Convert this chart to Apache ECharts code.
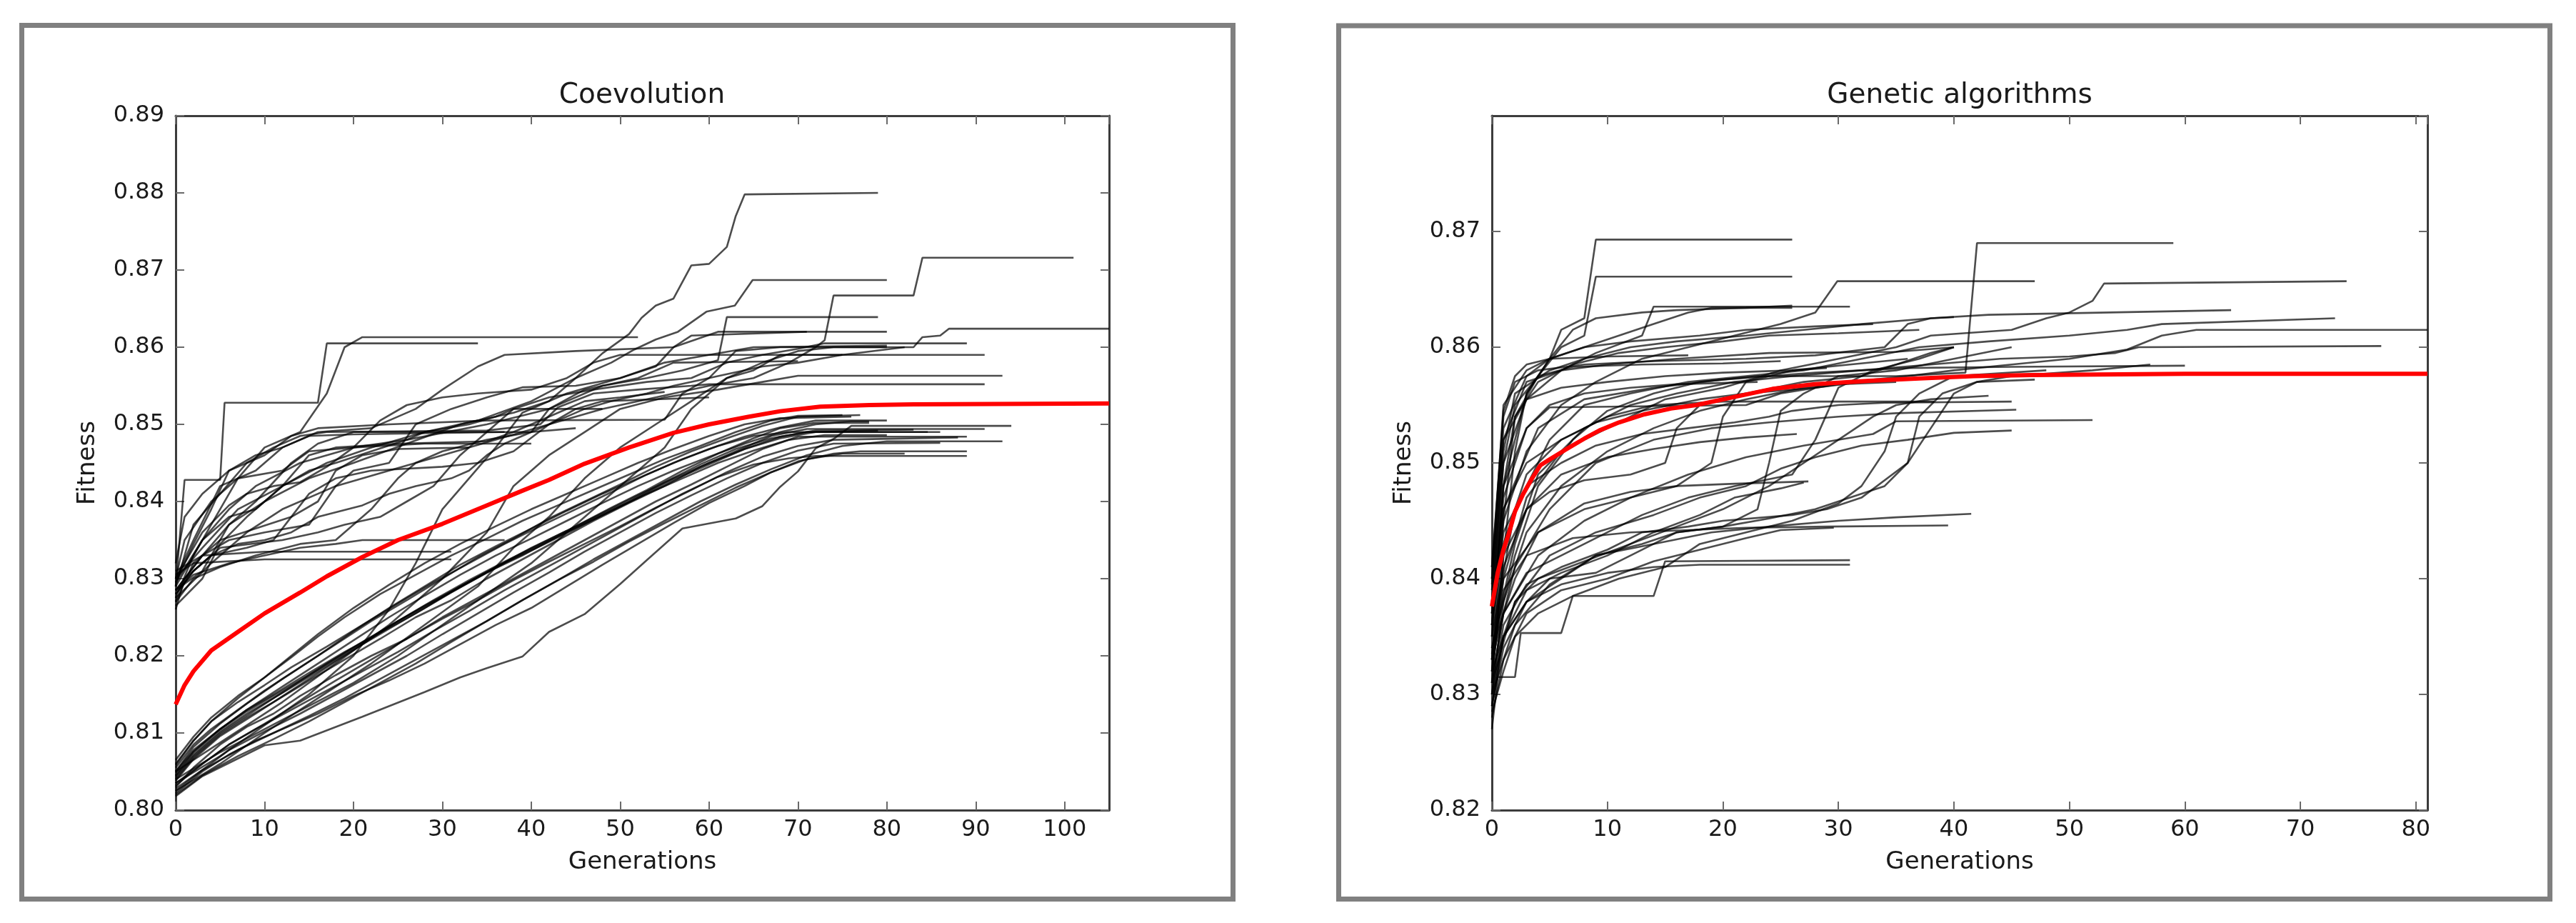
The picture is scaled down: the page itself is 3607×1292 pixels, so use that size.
<!DOCTYPE html>
<html><head><meta charset="utf-8">
<script src="https://cdn.jsdelivr.net/npm/echarts@6/dist/echarts.min.js"></script>
<style>html,body{margin:0;padding:0;background:#fff}#c{width:3607px;height:1292px}</style>
</head><body><div id="c"></div>
<script>
const coevoTitle = 'Coevolution';
const gaTitle = 'Genetic algorithms';
const xName = 'Generations';
const yName = 'Fitness';
const coevoYTicks = [0.80, 0.89, 0.01];
const coevoXTicks = [0, 105, 10];
const gaYTicks = [0.82, 0.88, 0.01];
const gaXTicks = [0, 81, 10];

// mean curves: flat [x, y, x, y, ...]
const coevoMean = [0,.8137, 1,.8162, 2,.8180, 4,.8207, 7,.8231, 10,.8255, 14,.8282, 17,.8303, 21,.8328, 25,.8350, 30,.8371, 35,.8395, 39,.8414, 42,.8428, 46,.8449, 51,.8470, 56,.8489, 60,.8500, 64.5,.8510, 68,.8517, 72.5,.8523, 78,.8525, 83,.8526, 105,.8527];
const gaMean = [0,.8376, 0.5,.8405, 1,.8425, 1.5,.8440, 2,.8458, 2.7,.8473, 3.5,.8487, 4.2,.8498, 5,.8503, 6.3,.8511, 8,.8521, 9.3,.8528, 11,.8535, 13.2,.8542, 15.5,.8547, 17.7,.8550, 21,.8557, 24.3,.8564, 28,.8568, 32.7,.8571, 37,.8573, 41.7,.8575, 46.7,.8576, 60,.8577, 81,.8577];

// coevolution runs that jump early (start ~0.83)
const coevoEarlyRuns = [
 [0,.8285, 3,.8330, 6,.8370, 10,.8400, 15,.8430, 20,.8450, 26,.8475, 32,.8500, 38,.8515, 42,.8530, 45,.8560, 48,.8592, 51,.8617, 52.4,.8638, 54,.8654, 56,.8663, 58,.8706, 60,.8708, 62,.8730, 63,.8770, 64,.8798, 79,.8800],
 [0,.8275, 4,.8320, 8,.8360, 12,.8390, 18,.8420, 24,.8440, 30,.8460, 36,.8480, 42,.8500, 48,.8520, 54,.8535, 60,.8550, 65,.8560, 69,.8580, 72,.8600, 73,.8609, 74,.8667, 83,.8667, 84,.8716, 101,.8716],
 [0,.8300, 3,.8340, 7,.8390, 12,.8420, 17,.8450, 22,.8470, 28,.8490, 34,.8505, 40,.8530, 45,.8560, 49,.8580, 51.6,.8597, 54,.8610, 56.5,.8620, 59.7,.8646, 62.9,.8654, 64.9,.8687, 80,.8687],
 [0,.8290, 3,.8350, 6,.8390, 9,.8420, 14,.8450, 20,.8470, 26,.8480, 35,.8500, 42,.8520, 48,.8550, 53,.8560, 57,.8570, 61,.8583, 62,.8639, 79,.8639],
 [0,.8290, 1,.8428, 5,.8428, 5.5,.8528, 16,.8528, 17,.8605, 34,.8605],
 [0,.8275, 2,.8330, 4,.8370, 7,.8430, 10,.8470, 14,.8490, 17,.8540, 19,.8600, 21,.8613, 52,.8613],
 [0,.8300, 2,.8350, 5,.8420, 9,.8440, 12,.8470, 16,.8490, 22,.8495, 27,.8520, 30,.8545, 34,.8575, 37,.8590, 45,.8595, 56,.8600, 61,.8620, 80,.8620],
 [0,.8285, 3,.8310, 6,.8370, 9,.8400, 13,.8450, 16,.8475, 20,.8490, 40,.8490, 42,.8520, 46,.8545, 52,.8560, 56,.8580, 70,.8582],
 [0,.8265, 3,.8300, 5,.8345, 8,.8380, 12,.8420, 15,.8460, 18,.8470, 25,.8475, 35,.8478, 38,.8490, 42,.8510, 46,.8530, 50,.8535, 55,.8542],
 [0,.8295, 2,.8345, 4,.8390, 6,.8440, 10,.8460, 13,.8485, 16,.8495, 24,.8500, 35,.8505, 55,.8506, 57,.8540, 60,.8560, 63,.8595, 68,.8600, 80,.8600],
 [0,.8310, 3,.8330, 10,.8335, 31,.8335],
 [0,.8305, 2,.8320, 10,.8325, 31,.8325],
 [0,.8270, 2,.8300, 5,.8315, 9,.8330, 14,.8345, 18,.8350, 22,.8390, 25,.8430, 27,.8450, 30,.8465, 35,.8480, 40,.8490, 45,.8495],
 [0,.8285, 3,.8330, 6,.8350, 10,.8360, 15,.8370, 18,.8420, 20,.8440, 24,.8450, 27,.8500, 31,.8520, 35,.8535, 39,.8548, 45,.8550, 50,.8560, 54,.8575, 56,.8600, 58,.8615, 71,.8620],
 [0,.8300, 1,.8350, 4,.8400, 7,.8430, 12,.8440, 15,.8465, 20,.8470, 28,.8475, 40,.8475],
 [0,.8290, 2,.8370, 5,.8410, 8,.8450, 11,.8470, 14,.8485, 17,.8490, 35,.8492, 41,.8500, 43,.8522, 47,.8540, 52,.8545, 58,.8550, 60,.8552, 91,.8552],
 [0,.8260, 1,.8300, 4,.8330, 8,.8340, 11,.8350, 13,.8380, 16,.8400, 18,.8440, 21,.8460, 25,.8468, 33,.8470],
 [0,.8280, 2,.8310, 5,.8340, 12,.8350, 16,.8360, 19,.8370, 23,.8380, 26,.8400, 29,.8420, 32,.8460, 35,.8490, 38,.8520, 42,.8535, 47,.8545, 53,.8555, 58,.8560, 62,.8580, 66,.8590, 70,.8598, 73,.8605, 89,.8605],
 [0,.8320, 1,.8380, 3,.8410, 6,.8440, 9,.8460, 12,.8470, 15,.8485, 20,.8487, 37,.8490],
 [0,.8270, 2,.8320, 5,.8350, 9,.8365, 13,.8380, 15,.8410, 18,.8430, 22,.8440, 30,.8445, 34,.8450, 38,.8465, 42,.8500, 45,.8520, 48,.8530, 60,.8535],
 [0,.8300, 3,.8360, 6,.8395, 8,.8410, 11,.8420, 14,.8425, 17,.8445, 20,.8470, 23,.8505, 26,.8525, 30,.8535, 34,.8540, 40,.8545, 44,.8560, 47,.8580, 50,.8590, 75,.8590],
 [0,.8285, 2,.8305, 6,.8320, 10,.8330, 14,.8340, 18,.8345, 21,.8350, 37,.8350],
 [0,.8295, 3,.8350, 6,.8380, 9,.8390, 12,.8420, 15,.8440, 18,.8450, 22,.8465, 26,.8480, 28,.8490, 33,.8500, 36,.8510, 38,.8520, 48,.8520],
 [0,.8280, 2,.8310, 4,.8330, 7,.8345, 10,.8350, 13,.8360, 16,.8380, 21,.8395, 24,.8410, 27,.8420, 31,.8430, 33,.8440, 35,.8460, 37,.8475, 40,.8490, 43,.8505, 46,.8520, 49,.8530, 53,.8540, 56,.8550, 62,.8565, 66,.8575, 70,.8580, 75,.8590, 82,.8600]
];

// coevolution runs that climb slowly (start ~0.80)
const coevoLateRuns = [
 [0,.8040, 5,.8075, 10,.8105, 15,.8135, 20,.8165, 25,.8200, 30,.8240, 35,.8280, 40,.8320, 45,.8370, 50,.8420, 55,.8470, 58,.8520, 62,.8560, 66,.8580, 70,.8595, 74,.8600, 83,.8600, 84,.8613, 86,.8615, 87,.8624, 105,.8624],
 [0,.8035, 5,.8070, 10,.8110, 15,.8150, 20,.8200, 24,.8260, 27,.8320, 30,.8390, 33,.8430, 36,.8470, 39,.8515, 44,.8540, 50,.8560, 55,.8580, 60,.8590, 65,.8600, 80,.8602],
 [0,.8050, 6,.8095, 12,.8140, 18,.8190, 24,.8240, 30,.8300, 35,.8360, 38,.8420, 42,.8460, 46,.8490, 50,.8520, 55,.8535, 61,.8545, 66,.8555, 70,.8563, 93,.8563],
 [0,.8025, 5,.8060, 10,.8100, 16,.8145, 22,.8190, 28,.8240, 34,.8290, 38,.8340, 42,.8380, 46,.8430, 50,.8470, 54,.8500, 58,.8530, 62,.8560, 65,.8570, 68,.8590, 91,.8590],
 [0,.8018, 3,.8044, 10,.8084, 14,.8090, 21,.8121, 28,.8153, 32,.8172, 35,.8184, 39,.8199, 42,.8231, 46,.8254, 50,.8293, 53,.8324, 57,.8365, 63,.8378, 66,.8394, 68,.8419, 70,.8439, 72,.8469, 74,.8481, 76,.8498, 94,.8498],
 [0,.8022, 3,.8050, 6,.8072, 9,.8090, 12,.8105, 16,.8125, 20,.8148, 24,.8168, 28,.8190, 32,.8215, 36,.8240, 40,.8262, 44,.8290, 48,.8318, 52,.8345, 56,.8372, 60,.8398, 64,.8420, 67,.8438, 70,.8452, 74,.8462, 77,.8465, 89,.8465],
 [0,.8030, 2,.8055, 5,.8085, 8,.8108, 11,.8125, 14,.8148, 18,.8175, 22,.8200, 26,.8222, 30,.8250, 34,.8275, 38,.8300, 42,.8325, 46,.8350, 50,.8375, 54,.8400, 58,.8422, 62,.8445, 66,.8468, 70,.8484, 89,.8484],
 [0,.8040, 2,.8068, 5,.8098, 8,.8120, 11,.8140, 15,.8168, 19,.8195, 23,.8222, 27,.8250, 31,.8272, 35,.8300, 39,.8325, 43,.8350, 47,.8375, 51,.8398, 55,.8420, 59,.8445, 63,.8465, 67,.8485, 71,.8494, 91,.8494],
 [0,.8045, 2,.8075, 5,.8105, 8,.8130, 12,.8160, 16,.8190, 20,.8220, 24,.8250, 28,.8278, 32,.8305, 36,.8330, 40,.8352, 44,.8375, 48,.8398, 52,.8420, 56,.8440, 60,.8458, 64,.8475, 68,.8490, 72,.8500, 76,.8504, 78,.8504],
 [0,.8055, 2,.8085, 4,.8105, 7,.8130, 10,.8155, 14,.8185, 18,.8215, 22,.8245, 26,.8272, 30,.8300, 34,.8328, 38,.8352, 42,.8378, 46,.8400, 50,.8422, 54,.8445, 58,.8465, 62,.8482, 66,.8498, 70,.8510, 77,.8512],
 [0,.8035, 3,.8060, 6,.8085, 9,.8105, 13,.8130, 17,.8155, 21,.8180, 25,.8205, 29,.8232, 33,.8258, 37,.8285, 41,.8310, 45,.8335, 49,.8360, 53,.8385, 57,.8410, 61,.8432, 65,.8448, 69,.8456, 72,.8459, 89,.8459],
 [0,.8050, 2,.8078, 5,.8105, 8,.8130, 11,.8150, 15,.8178, 19,.8205, 23,.8230, 27,.8255, 31,.8282, 35,.8308, 39,.8330, 43,.8355, 47,.8378, 51,.8400, 55,.8425, 59,.8448, 63,.8468, 67,.8482, 71,.8490, 84.6,.8490],
 [0,.8060, 2,.8090, 4,.8115, 7,.8140, 10,.8162, 13,.8185, 17,.8212, 21,.8240, 25,.8268, 29,.8295, 33,.8320, 37,.8345, 41,.8368, 45,.8390, 49,.8412, 53,.8435, 57,.8455, 61,.8472, 65,.8485, 69,.8490, 86,.8490],
 [0,.8028, 3,.8052, 7,.8078, 11,.8100, 15,.8122, 19,.8145, 23,.8170, 27,.8195, 31,.8220, 35,.8245, 39,.8272, 43,.8298, 47,.8322, 51,.8348, 55,.8372, 59,.8395, 63,.8418, 67,.8438, 71,.8455, 75,.8462, 82,.8462],
 [0,.8042, 2,.8070, 5,.8100, 9,.8130, 13,.8160, 17,.8190, 21,.8218, 25,.8245, 29,.8270, 33,.8295, 37,.8320, 41,.8342, 45,.8365, 49,.8388, 53,.8410, 57,.8430, 61,.8450, 65,.8466, 69,.8480, 73,.8486, 80,.8486],
 [0,.8050, 2,.8082, 5,.8112, 8,.8138, 12,.8170, 16,.8200, 20,.8232, 24,.8262, 28,.8290, 32,.8318, 36,.8342, 40,.8365, 44,.8388, 48,.8410, 52,.8430, 56,.8450, 60,.8468, 64,.8484, 68,.8496, 72,.8505, 80,.8505],
 [0,.8020, 3,.8045, 7,.8070, 11,.8092, 15,.8115, 19,.8140, 23,.8165, 27,.8190, 31,.8218, 35,.8245, 39,.8272, 43,.8298, 47,.8325, 51,.8350, 55,.8375, 59,.8400, 63,.8422, 67,.8442, 71,.8460, 75,.8472, 80,.8478, 93,.8478],
 [0,.8065, 2,.8095, 4,.8120, 7,.8148, 10,.8172, 13,.8198, 16,.8225, 19,.8250, 23,.8280, 27,.8305, 31,.8330, 35,.8352, 39,.8375, 43,.8395, 47,.8415, 51,.8435, 55,.8455, 59,.8472, 63,.8490, 67,.8505, 70,.8511, 75,.8512],
 [0,.8032, 3,.8060, 6,.8085, 10,.8112, 14,.8140, 18,.8168, 22,.8195, 26,.8222, 30,.8248, 34,.8272, 38,.8298, 42,.8322, 46,.8345, 50,.8368, 54,.8392, 58,.8415, 62,.8438, 66,.8458, 70,.8472, 74,.8480, 88,.8483],
 [0,.8048, 2,.8076, 5,.8105, 8,.8128, 12,.8155, 16,.8182, 20,.8210, 24,.8238, 28,.8265, 32,.8290, 36,.8315, 40,.8338, 44,.8360, 48,.8382, 52,.8405, 56,.8428, 60,.8448, 64,.8468, 68,.8484, 72,.8492, 83,.8493],
 [0,.8038, 2,.8066, 5,.8096, 9,.8125, 13,.8155, 17,.8185, 21,.8215, 25,.8245, 29,.8272, 33,.8298, 37,.8322, 41,.8345, 45,.8368, 49,.8392, 53,.8415, 57,.8440, 61,.8462, 65,.8482, 68,.8495, 72,.8502, 78,.8502],
 [0,.8058, 2,.8090, 4,.8115, 7,.8145, 10,.8172, 13,.8200, 16,.8228, 20,.8262, 24,.8292, 28,.8320, 32,.8345, 36,.8368, 40,.8390, 44,.8410, 48,.8430, 52,.8450, 56,.8468, 60,.8485, 64,.8500, 68,.8508, 76,.8510],
 [0,.8025, 3,.8052, 6,.8078, 10,.8102, 14,.8125, 18,.8150, 22,.8175, 26,.8200, 30,.8228, 34,.8255, 38,.8282, 42,.8308, 46,.8335, 50,.8360, 54,.8385, 58,.8408, 62,.8430, 66,.8450, 70,.8466, 74,.8475, 86,.8476],
 [0,.8044, 2,.8072, 5,.8102, 8,.8125, 12,.8152, 16,.8180, 20,.8208, 24,.8235, 28,.8262, 32,.8290, 36,.8315, 40,.8340, 44,.8362, 48,.8385, 52,.8408, 56,.8430, 60,.8450, 64,.8468, 68,.8482, 72,.8490, 79,.8492]
];

// genetic-algorithm runs
const gaRuns = [
 [0,.8310, 1,.8420, 2,.8510, 3,.8560, 5,.8590, 6,.8615, 8,.8625, 9,.8693, 26,.8693],
 [0,.8330, 1,.8450, 2,.8540, 4,.8575, 6,.8600, 8,.8610, 9,.8661, 26,.8661],
 [0,.8360, 1,.8480, 3,.8560, 5,.8590, 8,.8600, 11,.8610, 14,.8620, 17,.8630, 19,.8634, 26,.8634],
 [0,.8370, 1,.8500, 3,.8555, 6,.8580, 9,.8595, 13,.8610, 14,.8635, 31,.8635],
 [0,.8340, 2,.8420, 4,.8480, 7,.8520, 10,.8545, 14,.8560, 18,.8570, 23,.8575, 35,.8575, 41,.8578, 42,.8690, 59,.8690],
 [0,.8320, 1,.8400, 3,.8470, 6,.8510, 10,.8530, 15,.8555, 20,.8565, 25,.8580, 30,.8590, 35,.8600, 38,.8610, 45,.8615, 48,.8625, 50,.8630, 52,.8640, 53,.8655, 74,.8657],
 [0,.8380, 1,.8510, 2,.8560, 5,.8580, 8,.8590, 12,.8600, 16,.8605, 22,.8610, 27,.8615, 32,.8620, 38,.8625, 43,.8628, 64,.8632],
 [0,.8350, 2,.8460, 5,.8520, 8,.8550, 12,.8560, 17,.8570, 22,.8575, 27,.8580, 32,.8590, 37,.8600, 43,.8605, 50,.8610, 55,.8615, 58,.8620, 73,.8625],
 [0,.8300, 1,.8380, 3,.8440, 6,.8480, 10,.8510, 14,.8530, 18,.8545, 22,.8555, 27,.8565, 31,.8570, 36,.8575, 40,.8580, 45,.8585, 50,.8590, 55,.8598, 58,.8610, 61,.8615, 81,.8615],
 [0,.8340, 2,.8430, 4,.8490, 8,.8530, 12,.8550, 16,.8560, 21,.8570, 26,.8575, 32,.8580, 38,.8585, 44,.8590, 50,.8592, 54,.8595, 56,.8600, 77,.8601],
 [0,.8360, 1,.8460, 4,.8530, 8,.8555, 14,.8565, 20,.8572, 28,.8578, 36,.8582, 45,.8583, 60,.8584],
 [0,.8390, 1,.8520, 3,.8570, 6,.8580, 10,.8585, 16,.8590, 24,.8595, 35,.8596, 40,.8600],
 [0,.8330, 2,.8410, 5,.8460, 9,.8500, 14,.8520, 19,.8530, 24,.8535, 30,.8540, 35,.8543, 45.4,.8546],
 [0,.8310, 1,.8370, 4,.8420, 8,.8450, 12,.8470, 17,.8490, 22,.8505, 27,.8515, 33,.8525, 35,.8536, 52,.8537],
 [0,.8270, 0.5,.8315, 2,.8315, 2.5,.8353, 6,.8353, 7,.8385, 14,.8385, 15,.8415, 31,.8416],
 [0,.8290, 1,.8350, 3,.8380, 6,.8395, 10,.8405, 14,.8410, 18,.8412, 31,.8412],
 [0,.8320, 1,.8390, 3,.8420, 7,.8435, 12,.8440, 17,.8442, 22,.8444, 29,.8445, 39.5,.8446],
 [0,.8300, 2,.8360, 5,.8395, 9,.8420, 14,.8430, 19,.8440, 24,.8445, 30,.8450, 35,.8453, 41.5,.8456],
 [0,.8340, 2,.8400, 4,.8440, 8,.8465, 12,.8475, 16,.8480, 21,.8482, 27.4,.8484],
 [0,.8370, 1,.8460, 3,.8500, 6,.8520, 10,.8540, 14,.8550, 20,.8553, 38.3,.8553],
 [0,.8400, 1,.8530, 3,.8575, 5,.8590, 8,.8600, 12,.8605, 18,.8610, 22,.8615, 28,.8618, 33,.8620],
 [0,.8350, 1,.8480, 2,.8540, 4,.8570, 7,.8585, 11,.8595, 15,.8600, 20,.8605, 24,.8610, 30,.8612, 37,.8615],
 [0,.8380, 1,.8500, 2,.8550, 4,.8575, 7,.8583, 13,.8585, 20,.8586, 25,.8588],
 [0,.8410, 1,.8540, 2,.8570, 4,.8580, 8,.8585, 14,.8588, 22,.8590, 28,.8593, 34,.8600, 36,.8620, 38,.8625, 40,.8626],
 [0,.8360, 1,.8470, 3,.8530, 5,.8550, 8,.8560, 12,.8565, 16,.8568, 23,.8570],
 [0,.8330, 1,.8430, 3,.8490, 6,.8520, 9,.8535, 13,.8545, 18,.8555, 22,.8560, 27,.8570, 32,.8575, 35,.8585, 38,.8595, 40,.8600],
 [0,.8395, 1,.8520, 3,.8555, 6,.8565, 10,.8570, 15,.8575, 20,.8578, 26,.8580, 29,.8582],
 [0,.8410, 1,.8545, 2,.8575, 3,.8585, 5,.8590, 10,.8592, 17,.8593],
 [0,.8400, 1,.8550, 3,.8580, 5,.8590, 7,.8615, 9,.8625, 13,.8630, 16,.8632, 22,.8634, 26,.8636],
 [0,.8310, 2,.8380, 5,.8420, 9,.8440, 14,.8455, 18,.8470, 22,.8480, 25,.8495, 28,.8505, 32,.8515, 36,.8520, 40,.8526, 45,.8528],
 [0,.8290, 1,.8350, 3,.8390, 6,.8405, 10,.8420, 14,.8440, 18,.8455, 21,.8470, 25,.8478, 27,.8483],
 [0,.8320, 2,.8380, 4,.8400, 8,.8415, 12,.8430, 16,.8445, 20,.8460, 24,.8480, 27,.8500, 30,.8520, 33,.8540, 35,.8550, 38,.8555, 43,.8558],
 [0,.8300, 1,.8360, 3,.8395, 6,.8410, 10,.8425, 13,.8440, 17,.8445, 20,.8450, 26,.8455, 29,.8460, 32,.8470, 36,.8500, 38,.8530, 40,.8560, 42,.8570, 47,.8572],
 [0,.8360, 1,.8440, 3,.8480, 6,.8500, 9,.8515, 13,.8525, 17,.8530, 21,.8535, 24,.8540, 26,.8545, 30,.8550, 34,.8552, 45,.8553],
 [0,.8370, 1,.8480, 3,.8530, 5,.8548, 22,.8550, 25,.8560, 30,.8568, 35,.8570],
 [0,.8350, 1,.8450, 3,.8510, 6,.8550, 9,.8570, 13,.8590, 17,.8600, 21,.8610, 25,.8620, 28,.8630, 29.9,.8657, 47,.8657],
 [0,.8280, 1,.8330, 3,.8370, 6,.8390, 10,.8400, 14,.8415, 18,.8425, 22,.8435, 25,.8442, 29.6,.8444],
 [0,.8330, 1,.8410, 3,.8460, 6,.8490, 10,.8505, 14,.8512, 18,.8518, 22,.8522, 26.4,.8525],
 [0,.8290, 1,.8340, 3,.8380, 5,.8400, 9,.8405, 12,.8420, 16,.8440, 20,.8445, 23,.8460, 24,.8500, 25,.8545, 27,.8560, 30,.8575, 35,.8580, 40,.8590, 45,.8600],
 [0,.8310, 1,.8370, 3,.8405, 6,.8420, 10,.8440, 13,.8455, 17,.8470, 21,.8480, 26,.8490, 28,.8520, 30,.8565, 33,.8580, 37,.8590, 40,.8600],
 [0,.8335, 1,.8400, 4,.8440, 8,.8460, 12,.8470, 16,.8480, 19,.8500, 20,.8540, 22,.8570, 26,.8580, 31,.8585, 36,.8590],
 [0,.8300, 1,.8350, 3,.8380, 6,.8400, 9,.8420, 13,.8430, 16,.8440, 20,.8445, 24,.8452, 28,.8460, 31,.8470, 34,.8480, 36,.8500, 37,.8540, 39,.8560, 42,.8570, 45,.8575, 52,.8580, 57,.8585],
 [0,.8285, 1,.8320, 2,.8350, 4,.8370, 7,.8385, 11,.8400, 15,.8410, 18,.8430, 22,.8440, 26,.8450, 30,.8465, 32,.8480, 34,.8510, 35,.8540, 37,.8560, 40,.8575, 48,.8580],
 [0,.8320, 1,.8420, 3,.8460, 5,.8475, 8,.8485, 12,.8490, 15,.8500, 16,.8530, 18,.8550, 22,.8560, 28,.8565, 32,.8570]
];

function pairs(a) { const p = []; for (let i = 0; i < a.length; i += 2) p.push([a[i], a[i + 1]]); return p; }

const FONT = "'DejaVu Sans', sans-serif";
const TXT = '#1a1a1a';

function axisPair(kind, gridIndex, range, isLabelled, showMax) {
  const pos = kind === 'x' ? (isLabelled ? 'bottom' : 'top') : (isLabelled ? 'left' : 'right');
  const ax = {
    type: 'value', gridIndex: gridIndex, position: pos,
    min: range[0], max: range[1], interval: range[2],
    axisLine: { show: true, onZero: false, lineStyle: { color: '#3c3c3c', width: 3 } },
    axisTick: { show: true, inside: true, length: 12, lineStyle: { color: '#6a6a6a', width: 2 } },
    splitLine: { show: false },
    axisLabel: {
      show: isLabelled, color: TXT, fontFamily: FONT, fontSize: 32,
      margin: kind === 'x' ? 12 : 16,
      showMaxLabel: showMax, showMinLabel: true,
      formatter: kind === 'y' ? (v => v.toFixed(2)) : (v => String(Math.round(v)))
    }
  };
  if (isLabelled) {
    ax.name = kind === 'x' ? xName : yName;
    ax.nameLocation = 'middle';
    ax.nameGap = kind === 'x' ? 56 : 106;
    ax.nameTextStyle = { color: TXT, fontFamily: FONT, fontSize: 34 };
  }
  return ax;
}

const xAxes = [
  axisPair('x', 0, coevoXTicks, true, false), axisPair('x', 0, coevoXTicks, false, false),
  axisPair('x', 1, gaXTicks, true, false), axisPair('x', 1, gaXTicks, false, false)
];
const yAxes = [
  axisPair('y', 0, coevoYTicks, true, true), axisPair('y', 0, coevoYTicks, false, true),
  axisPair('y', 1, gaYTicks, true, false), axisPair('y', 1, gaYTicks, false, false)
];

function runSeries(runs, axisIdx) {
  return runs.map(r => ({
    type: 'line', data: pairs(r), xAxisIndex: axisIdx, yAxisIndex: axisIdx,
    showSymbol: false, symbol: 'none', silent: true, z: 2,
    lineStyle: { color: '#000', width: 2.6, opacity: 0.7 }
  }));
}
function meanSeries(m, axisIdx) {
  return {
    type: 'line', data: pairs(m), xAxisIndex: axisIdx, yAxisIndex: axisIdx,
    showSymbol: false, symbol: 'none', silent: true, z: 5,
    lineStyle: { color: '#ff0000', width: 6 }
  };
}

const series = [].concat(
  runSeries(coevoEarlyRuns, 0), runSeries(coevoLateRuns, 0), [meanSeries(coevoMean, 0)],
  runSeries(gaRuns, 2), [meanSeries(gaMean, 2)]
);

const chart = echarts.init(document.getElementById('c'), null, { renderer: 'canvas' });
chart.setOption({
  animation: false,
  backgroundColor: '#ffffff',
  grid: [
    { left: 246, top: 162, width: 1307, height: 972 },
    { left: 2089, top: 162, width: 1310, height: 972 }
  ],
  xAxis: xAxes,
  yAxis: yAxes,
  series: series,
  graphic: [
    { type: 'rect', shape: { x: 30.5, y: 35.5, width: 1696, height: 1223 }, style: { fill: 'none', stroke: '#808080', lineWidth: 7 }, z: -1 },
    { type: 'rect', shape: { x: 1874.5, y: 36, width: 1696, height: 1222.5 }, style: { fill: 'none', stroke: '#808080', lineWidth: 7 }, z: -1 },
    { type: 'text', x: 899, y: 134, style: { text: coevoTitle, fill: TXT, font: "39px 'DejaVu Sans', sans-serif", align: 'center', verticalAlign: 'middle' } },
    { type: 'text', x: 2744, y: 134, style: { text: gaTitle, fill: TXT, font: "39px 'DejaVu Sans', sans-serif", align: 'center', verticalAlign: 'middle' } }
  ]
});
</script>
</body></html>
